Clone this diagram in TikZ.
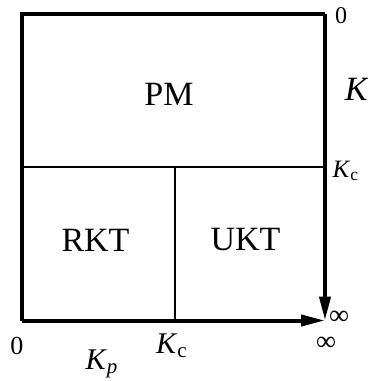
\documentclass[tikz,border=0pt]{standalone}
\usepackage{fontspec}
\setmainfont{Liberation Serif}
\usetikzlibrary{arrows.meta}
\tikzset{
    borda/.style={line width=2pt},
    divisao/.style={line width=1pt},
    eixo/.style={borda, -{Triangle[length=12pt, width=5.5pt]}},
    regiao/.style={inner sep=0pt, font=\fontsize{17}{20}\selectfont},
    rotulo/.style={inner sep=0pt}
}

\begin{document}
\begin{tikzpicture}[x=0.5pt, y=-0.5pt]
    \useasboundingbox (0,0) rectangle (368,381);
    % cantos do quadro
    \coordinate (tl) at (21.5,14);
    \coordinate (tr) at (325,14);
    \coordinate (bl) at (21.5,320.5);
    \coordinate (br) at (325,320.5);
    \coordinate (ml) at (21.5,167);
    \coordinate (mr) at (325,167);
    \coordinate (dt) at (175,167);
    \coordinate (db) at (175,320.5);

    \draw[borda] (bl) -- (tl) -- (tr);
    \draw[eixo] (tr) -- (br);
    \draw[eixo] (bl) -- (br);
    \draw[divisao] (ml) -- (mr);
    \draw[divisao] (dt) -- (db);

    % regioes
    \node[regiao] (pm) at (169,94) {PM};
    \node[regiao] (rkt) at (95.5,240) {RKT};
    \node[regiao] (ukt) at (245.5,240) {UKT};

    % eixo K (vertical)
    \node[rotulo, font=\fontsize{12}{14}\selectfont] (kzero) at (341,16) {0};
    \node[rotulo, font=\fontsize{17}{20}\selectfont] (klabel) at (357,89) {\textit{K}};
    \node[rotulo, font=\fontsize{12.5}{15}\selectfont] (kcright) at (346,171) {\textit{K}\textsubscript{c}};
    \node[rotulo, font=\fontsize{14}{16}\selectfont] (kinf) at (339,318) {∞};

    % eixo Kp (horizontal)
    \node[rotulo, font=\fontsize{13}{15}\selectfont] (pzero) at (17,346) {0};
    \node[rotulo, font=\fontsize{15}{18}\selectfont] (kcbottom) at (172,346) {\textit{K}\textsubscript{c}};
    \node[rotulo, font=\fontsize{15}{18}\selectfont] (kplabel) at (102,364) {\textit{K}\textsubscript{\textit{p}}};
    \node[rotulo, font=\fontsize{14}{16}\selectfont] (pinf) at (326,344) {∞};
\end{tikzpicture}
\end{document}
